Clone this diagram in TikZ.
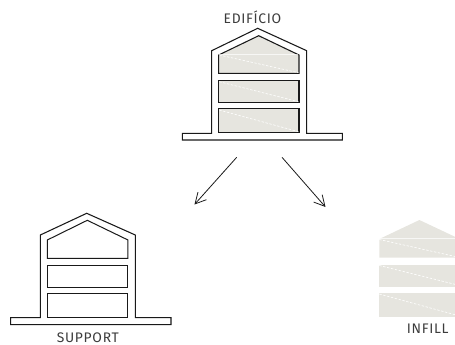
\documentclass[tikz,border=0pt]{standalone}
\usepackage{fontspec}
\setmainfont{Fira Sans}[LetterSpace=5]
\usepackage{xcolor}
\usepackage{tikz}
\usetikzlibrary{arrows.meta}
\definecolor{infillgrey}{RGB}{230, 229, 223}
\definecolor{inkgrey}{RGB}{25, 25, 25}
\definecolor{labelgrey}{RGB}{60, 60, 60}

\begin{document}
\begin{tikzpicture}[
    x=0.75pt, y=-0.75pt,
    wall/.style={draw=inkgrey, line width=0.8pt, fill=white, line join=miter},
    room/.style={draw=inkgrey, line width=0.8pt, fill=infillgrey},
    emptyroom/.style={draw=inkgrey, line width=0.75pt},
    infillroom/.style={fill=infillgrey},
    crease/.style={draw=white, line width=0.45pt, dash pattern=on 1.8pt off 1.2pt},
    ridge/.style={draw=white, draw opacity=0.7, line width=0.5pt},
    lbl/.style={font=\fontsize{10.4pt}{12pt}\selectfont, text=labelgrey, inner sep=0pt, anchor=base},
    arrow/.style={-{Straight Barb[length=8pt,width=8.5pt]}, draw=inkgrey, line width=0.6pt}
]
\useasboundingbox (0,0) rectangle (455,344);

% Whole building (top)
\draw[wall] (182.3,133.3) -- (211.7,133.3) -- (211.7,50.7) -- (257.7,28.3) -- (306.7,50.7)
    -- (306.7,133.3) -- (342.3,133.3) -- (342.3,140) -- (182.3,140) -- cycle;
\draw[room] (218.7,55) -- (258.7,35.7) -- (299,55) -- (299,73.3) -- (218.7,73.3) -- cycle;
\draw[room] (218.7,80.3) rectangle (299,102.3);
\draw[room] (218.7,108.7) rectangle (299,132.3);
\draw[ridge] (219.2,54.5) -- (298.5,54.5);
\foreach \ya/\yb in {55/72.7, 81.7/101.7, 110/131.7}
    \draw[crease] (219.2,\ya) -- (298.5,\yb);

% Support (bottom left)
\draw[wall] (10.7,317.7) -- (40.3,317.7) -- (40.3,235) -- (86.7,213.3) -- (135.3,235)
    -- (135.3,317.7) -- (171,317.7) -- (171,324.7) -- (10.7,324.7) -- cycle;
\draw[emptyroom] (47.3,240) -- (87.3,220.3) -- (128,240) -- (128,258.3) -- (47.3,258.3) -- cycle;
\draw[emptyroom] (47.3,265.3) rectangle (128,287.3);
\draw[emptyroom] (47.3,293.7) rectangle (128,317);

% Infill (bottom right)
\fill[infillroom] (379.3,239) -- (419.4,220) -- (459.7,239) -- (459.7,257.7) -- (379.3,257.7) -- cycle;
\fill[infillroom] (379.3,265) rectangle (459.7,286.7);
\fill[infillroom] (379.3,293.3) rectangle (459.7,316.7);
\draw[ridge] (379.3,238.8) -- (459.7,238.8);
\foreach \ya/\yb in {239.5/257.5, 265.5/285.5, 294/316}
    \draw[crease] (379.3,\ya) -- (459.7,\yb);

% Labels
\node[lbl] at (252.5,23.3)  (edificio) {EDIFÍCIO};
\node[lbl] at (87.8,342)    (support)  {SUPPORT};
\node[lbl] at (427.7,333.3) (infill)   {INFILL};

% Arrows
\coordinate (splitleft)  at (236.7,157.3);
\coordinate (splitright) at (282,157.3);
\coordinate (toleft)     at (194.5,204.5);
\coordinate (toright)    at (325.5,207);
\draw[arrow] (splitleft)  -- (toleft);
\draw[arrow] (splitright) -- (toright);
\end{tikzpicture}
\end{document}
